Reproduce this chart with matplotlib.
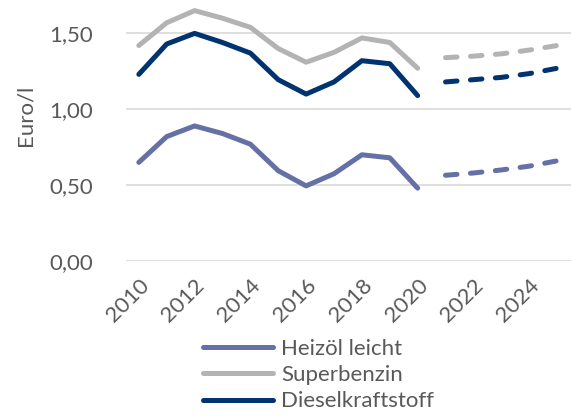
import numpy as np
import matplotlib.pyplot as plt
from matplotlib.ticker import FuncFormatter

years = [2010, 2011, 2012, 2013, 2014, 2015, 2016, 2017, 2018, 2019, 2020]
years_prog = [2021, 2022, 2023, 2024, 2025]

heizoel = [0.65, 0.82, 0.89, 0.84, 0.77, 0.595, 0.495, 0.575, 0.70, 0.68, 0.48]
super_benzin = [1.42, 1.57, 1.65, 1.60, 1.54, 1.40, 1.31, 1.375, 1.47, 1.44, 1.27]
diesel = [1.23, 1.43, 1.50, 1.44, 1.37, 1.195, 1.10, 1.18, 1.32, 1.30, 1.09]

heizoel_prog = [0.565, 0.58, 0.60, 0.625, 0.66]
super_prog = [1.34, 1.35, 1.365, 1.39, 1.42]
diesel_prog = [1.18, 1.195, 1.21, 1.235, 1.27]

names = ['Heizöl leicht', 'Superbenzin', 'Dieselkraftstoff']
colors = ['#6470a6', '#b3b3b3', '#003370']

plt.rcParams['font.family'] = ['Lato', 'DejaVu Sans']
txt = '#595959'
fs = 16

fig = plt.figure(figsize=(5.71, 4.19), dpi=100)
ax = fig.add_axes([126 / 571, 1 - 261 / 419, 445 / 571, 261 / 419])

lw = 3.6
for hist, prog, name, c in zip([heizoel, super_benzin, diesel],
                               [heizoel_prog, super_prog, diesel_prog], names, colors):
    ax.plot(years, hist, color=c, lw=lw, label=name, solid_capstyle='round',
            solid_joinstyle='round')
    ax.plot(years_prog, prog, color=c, lw=lw, ls=(0, (2.3, 2.7)),
            dash_capstyle='round')

ax.set_xlim(2009.54, 2025.5)
ax.set_ylim(0, 1.72)
ax.set_yticks([0, 0.5, 1.0, 1.5])
ax.yaxis.set_major_formatter(FuncFormatter(lambda v, p: f'{v:.2f}'.replace('.', ',')))
ax.set_xticks(np.arange(2010, 2025, 2))
ax.grid(axis='y', color='#d9d9d9', lw=1.2)
ax.set_axisbelow(True)
for s in ax.spines.values():
    s.set_visible(False)
ax.tick_params(length=0, labelsize=fs, labelcolor=txt)
ax.tick_params(axis='y', pad=24)
ax.tick_params(axis='x', pad=10)
for lab in ax.get_xticklabels():
    lab.set_rotation(45)
    lab.set_ha('right')
    lab.set_rotation_mode('anchor')

fig.text(25 / 571, 1 - 115 / 419, 'Euro/l', rotation=90, fontsize=fs, color=txt,
         ha='center', va='center')

leg = fig.legend(loc='upper left', bbox_to_anchor=(194 / 571, 1 - 330 / 419),
                 frameon=False, fontsize=fs, handlelength=3.15, handletextpad=0.36,
                 labelspacing=0.28, borderaxespad=0)
for t in leg.get_texts():
    t.set_color(txt)

fig.savefig('out.png', dpi=100)
